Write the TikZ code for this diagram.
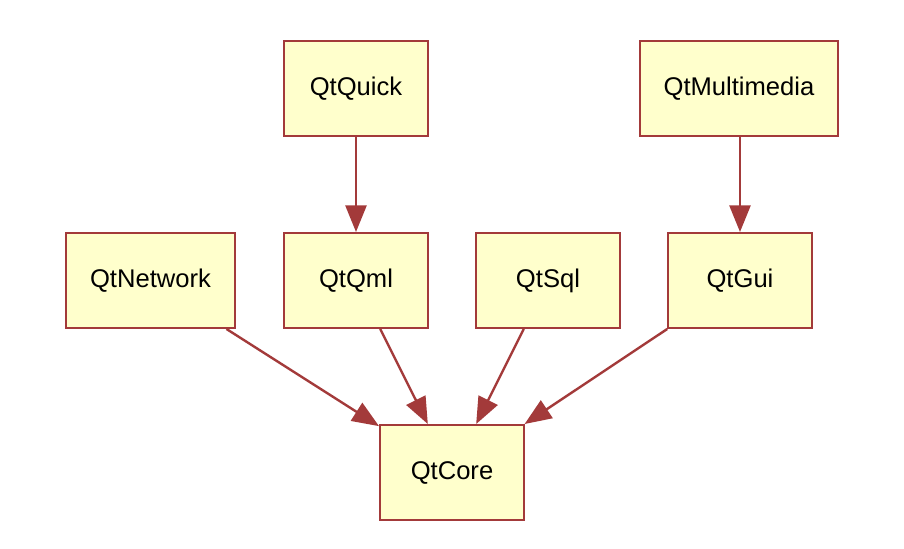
\documentclass[tikz,border=0pt]{standalone}
\usepackage{fontspec}
\setmainfont{Liberation Sans}
\usetikzlibrary{arrows.meta}
\definecolor{edgered}{HTML}{A33A3A}
\definecolor{boxfill}{HTML}{FFFFCC}

\begin{document}
\begin{tikzpicture}
            [x=0.025cm,y=-0.025cm,line width=1.7pt,
             every node/.style={rectangle,draw=edgered,fill=boxfill,line width=1.4pt,
               minimum width=144*0.025cm,minimum height=95*0.025cm,inner sep=0pt,
               text height=0.95em,text depth=0pt,
               font=\fontsize{18.2}{21}\selectfont},
             every edge/.style={draw=edgered,line width=1.7pt,-{Triangle[length=19pt,width=15pt]}}]
            \useasboundingbox (0,0) rectangle (904,548);
            \node (quick) at (356,88.5) {QtQuick};
            \node[minimum width=198*0.025cm] (mm) at (739,88.5) {QtMultimedia};
            \node[minimum width=169*0.025cm] (net) at (150.5,280.5) {QtNetwork};
            \node (qml) at (356,280.5) {QtQml};
            \node (sql) at (548,280.5) {QtSql};
            \node (gui) at (740,280.5) {QtGui};
            \node (core) at (452,472.5) {QtCore};
            \draw (quick) edge (qml);
            \draw (mm.south -| gui) edge (gui);

            \draw (net) edge (core);
            \draw (qml) edge (core);
            \draw (sql) edge (core);
            \draw (gui) edge (core);

        \end{tikzpicture}
\end{document}
